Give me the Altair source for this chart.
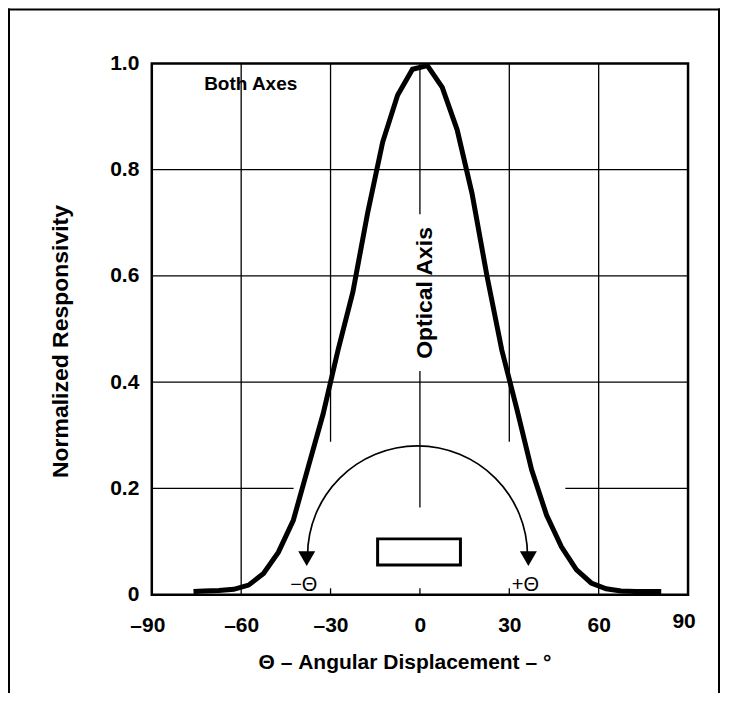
import altair as alt
import pandas as pd

# ---- data ----
angle = [-76, -72.5, -67.5, -62.5, -57.5, -52.5, -47.5, -42.5, -37.5, -32.5,
         -27.5, -22.5, -17.5, -12.5, -7.5, -2.5, 2.5, 7.5, 12.5, 17.5,
         22.5, 27.5, 32.5, 37.5, 42.5, 47.5, 52.5, 57.5, 62.5, 67.5,
         72.5, 77.5, 81]
resp = [0.006, 0.007, 0.008, 0.010, 0.018, 0.040, 0.080, 0.140, 0.240, 0.340,
        0.460, 0.570, 0.720, 0.852, 0.940, 0.989, 0.996, 0.955, 0.875, 0.755,
        0.600, 0.460, 0.350, 0.235, 0.150, 0.090, 0.047, 0.022, 0.011, 0.007,
        0.006, 0.006, 0.006]

x_ticks = [-90, -60, -30, 0, 30, 60, 90]
y_ticks = [0, 0.2, 0.4, 0.6, 0.8, 1.0]

# grid segments (gaps as in the reference)
vgrid_x = [-60, -30, 0, 0, 30, 60, -30, 0, 30]
vgrid_lo = [0, 0.288, 0.716, 0.164, 0.288, 0, 0, 0, 0]
vgrid_hi = [1, 1, 1, 0.421, 1, 1, 0.012, 0.012, 0.012]

hgrid_y = [0.8, 0.6, 0.4, 0.2, 0.2]
hgrid_lo = [-90, -90, -90, -90, 48.8]
hgrid_hi = [90, 90, 90, -42.4, 90]

arc_cx = [-0.8]
arc_cy = [0.073]

arrow_x = [-38.0, 36.4]
arrow_y = [0.068, 0.068]

box_x1 = [-14.2]
box_x2 = [13.6]
box_y1 = [0.056]
box_y2 = [0.105]

theta_text = ["\u2212\u0398", "+\u0398"]
theta_x = [-39.0, 35.4]
theta_y = [0.0075, 0.0075]

both_text = ["Both Axes"]
both_x = [-56.8]
both_y = [0.949]

optical_text = ["Optical Axis"]
optical_x = [4.2]
optical_y = [0.568]

FONT = "Liberation Sans"

xs = alt.Scale(domain=[-90, 90], nice=False, zero=False)
ys = alt.Scale(domain=[0, 1], nice=False, zero=False)

x_axis = alt.Axis(
    values=x_ticks,
    labelExpr="datum.value < 0 ? '\u2013' + format(-datum.value, 'd') : format(datum.value, 'd')",
    labelFont=FONT, labelFontSize=21, labelFontWeight="bold", labelColor="black",
    labelPadding=alt.condition("datum.value == 90", alt.value(16), alt.value(20)),
    labelOffset=alt.condition("abs(datum.value) == 90", alt.value(-4.5), alt.value(0)),
    labelFlush=False,
    ticks=False, domain=False, grid=False,
    title="\u0398 \u2013 Angular Displacement \u2013 \u00b0",
    titleFont=FONT, titleFontSize=21, titleFontWeight="bold", titleColor="black",
    titleX=253, titleY=74, titleBaseline="alphabetic", titleAlign="center",
)
y_axis = alt.Axis(
    values=y_ticks,
    labelExpr="datum.value == 0 ? '0' : format(datum.value, '.1f')",
    labelFont=FONT, labelFontSize=21, labelFontWeight="bold", labelColor="black",
    labelPadding=13, labelFlush=False, ticks=False, domain=False, grid=False,
    title="Normalized  Responsivity",
    titleFont=FONT, titleFontSize=23, titleFontWeight="bold", titleColor="black",
    titleX=-84, titleY=278, titleAngle=270, titleBaseline="alphabetic", titleAlign="center",
)


def X(field):
    return alt.X(field, scale=xs, axis=x_axis)


def Y(field):
    return alt.Y(field, scale=ys, axis=y_axis)


curve_df = pd.DataFrame({"angle": angle, "resp": resp})
vdf = pd.DataFrame({"x": vgrid_x, "lo": vgrid_lo, "hi": vgrid_hi})
hdf = pd.DataFrame({"y": hgrid_y, "lo": hgrid_lo, "hi": hgrid_hi})

vgrid = alt.Chart(vdf).mark_rule(color="black", strokeWidth=1.3).encode(
    x=X("x:Q"), y=Y("lo:Q"), y2="hi:Q",
)
hgrid = alt.Chart(hdf).mark_rule(color="black", strokeWidth=1.3).encode(
    y=Y("y:Q"), x=X("lo:Q"), x2="hi:Q",
)

curve = alt.Chart(curve_df).mark_line(color="black", strokeWidth=5).encode(
    x=X("angle:Q"), y=Y("resp:Q"),
)

arc = alt.Chart(pd.DataFrame({"cx": arc_cx, "cy": arc_cy})).mark_arc(
    radius=111, radius2=109.3, theta=4.712389, theta2=7.853982, color="black"
).encode(x=X("cx:Q"), y=Y("cy:Q"))

arrows = alt.Chart(pd.DataFrame({"x": arrow_x, "y": arrow_y})).mark_point(
    shape="triangle-down", filled=True, size=289, color="black", opacity=1
).encode(x=X("x:Q"), y=Y("y:Q"))

box = alt.Chart(pd.DataFrame({"x1": box_x1, "x2": box_x2, "y1": box_y1, "y2": box_y2})).mark_rect(
    fill="white", stroke="black", strokeWidth=3
).encode(x=X("x1:Q"), x2="x2:Q", y=Y("y1:Q"), y2="y2:Q")

theta_lbl = alt.Chart(pd.DataFrame({"x": theta_x, "y": theta_y, "t": theta_text})).mark_text(
    font=FONT, fontSize=20, fontWeight="normal", color="black",
    align="center", baseline="alphabetic"
).encode(x=X("x:Q"), y=Y("y:Q"), text="t:N")

both_lbl = alt.Chart(pd.DataFrame({"x": both_x, "y": both_y, "t": both_text})).mark_text(
    font=FONT, fontSize=19, fontWeight="bold", color="black",
    align="center", baseline="alphabetic"
).encode(x=X("x:Q"), y=Y("y:Q"), text="t:N")

optical_lbl = alt.Chart(pd.DataFrame({"x": optical_x, "y": optical_y, "t": optical_text})).mark_text(
    font=FONT, fontSize=23, fontWeight="bold", color="black",
    align="center", baseline="alphabetic", angle=270
).encode(x=X("x:Q"), y=Y("y:Q"), text="t:N")

one = pd.DataFrame({"a": [0]})
border_left = alt.Chart(one).mark_rule(color="black", strokeWidth=2).encode(
    x=alt.value(-143), y=alt.value(-55), y2=alt.value(700))
border_right = alt.Chart(one).mark_rule(color="black", strokeWidth=2).encode(
    x=alt.value(568), y=alt.value(-55), y2=alt.value(700))
border_top = alt.Chart(one).mark_rule(color="black", strokeWidth=2).encode(
    x=alt.value(-144), x2=alt.value(569), y=alt.value(-54))

chart = alt.layer(
    vgrid, hgrid, curve, arc, arrows, box, theta_lbl, both_lbl, optical_lbl,
    border_left, border_right, border_top,
).properties(
    width=537, height=532,
    padding={"left": 144, "top": 55, "right": 34, "bottom": 98},
    autosize=alt.AutoSizeParams(type="none"),
    background="white",
).configure_view(stroke="black", strokeWidth=2.5)

chart.save("out.html", embed_options={"renderer": "svg", "actions": False})
